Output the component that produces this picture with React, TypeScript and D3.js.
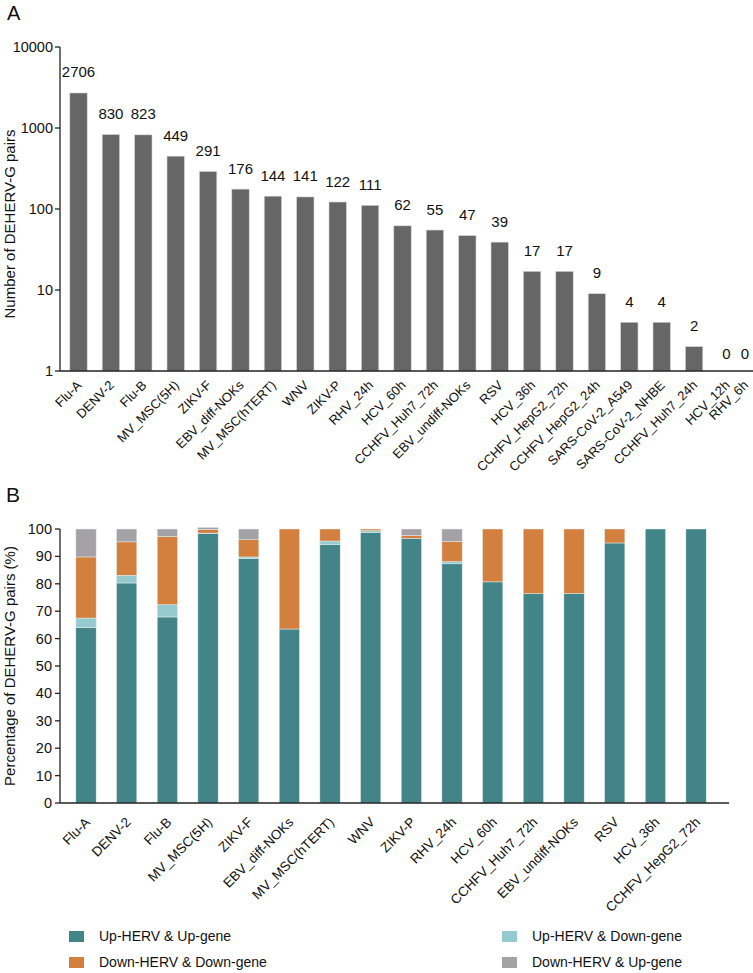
import React from "react";
import * as d3 from "d3";

const catsA = [
  "Flu-A", "DENV-2", "Flu-B", "MV_MSC(5H)", "ZIKV-F", "EBV_diff-NOKs", "MV_MSC(hTERT)", "WNV",
  "ZIKV-P", "RHV_24h", "HCV_60h", "CCHFV_Huh7_72h", "EBV_undiff-NOKs", "RSV", "HCV_36h",
  "CCHFV_HepG2_72h", "CCHFV_HepG2_24h", "SARS-CoV-2_A549", "SARS-CoV-2_NHBE", "CCHFV_Huh7_24h",
  "HCV_12h", "RHV_6h",
];
const countsA = [2706, 830, 823, 449, 291, 176, 144, 141, 122, 111, 62, 55, 47, 39, 17, 17, 9, 4, 4, 2, 0, 0];
const ticksA = [1, 10, 100, 1000, 10000];

const catsB = catsA.slice(0, 16);
const upUp = [64.0, 80.3, 67.9, 98.3, 89.2, 63.5, 94.3, 98.8, 96.6, 87.3, 80.7, 76.4, 76.5, 94.9, 100, 100];
const upDown = [3.5, 2.8, 4.5, 0.2, 0.6, 0, 1.3, 0.6, 0, 0.8, 0, 0, 0, 0, 0, 0];
const downDown = [22.3, 12.2, 24.9, 1.3, 6.3, 36.5, 4.4, 0.6, 1.0, 7.3, 19.3, 23.6, 23.5, 5.1, 0, 0];
const downUp = [10.2, 4.7, 2.7, 0.8, 3.9, 0, 0, 0, 2.4, 4.6, 0, 0, 0, 0, 0, 0];
const seriesNames = ["Up-HERV & Up-gene", "Up-HERV & Down-gene", "Down-HERV & Down-gene", "Down-HERV & Up-gene"];
const seriesColors = ["#428487", "#96cace", "#d3803e", "#a4a2a5"];
const ticksB = [0, 10, 20, 30, 40, 50, 60, 70, 80, 90, 100];

const FONT = "'Liberation Sans', Arial, Helvetica, sans-serif";

export default function App() {
  const W = 753, H = 973;
  // Panel A
  const axA = 60, bottomA = 371, topA = 47, rightA = 753;
  const yA = d3.scaleLog().domain([1, 10000]).range([bottomA, topA]);
  const xA = d3.scalePoint<string>().domain(catsA).range([78.5, 78.5 + 21 * 32.4]);
  const bwA = 17.4;
  const posA = (c: string) => Math.min(xA(c) as number, 745);

  // Panel B
  const axB = 60, bottomB = 803, topB = 529, rightB = 729;
  const yB = d3.scaleLinear().domain([0, 100]).range([bottomB, topB]);
  const xB = d3.scalePoint<string>().domain(catsB).range([86, 86 + 15 * 40.67]);
  const bwB = 20.3;
  const tableB = catsB.map((c, i) => ({ cat: c, s0: upUp[i], s1: upDown[i], s2: downDown[i], s3: downUp[i] }));
  const stack = d3.stack<any>().keys(["s0", "s1", "s2", "s3"])(tableB);

  const legend = [
    { i: 0, x: 69, y: 931 },
    { i: 1, x: 502, y: 931 },
    { i: 2, x: 69, y: 957 },
    { i: 3, x: 502, y: 957 },
  ];

  return (
    <svg width={W} height={H} style={{ position: "absolute", left: 0, top: 0, background: "#fff" }}
      fontFamily={FONT}>
      <rect x={0} y={0} width={W} height={H} fill="#fff" />
      {/* Panel A */}
      <text x={7} y={20} fontSize={20} fill="#111">A</text>
      {countsA.map((v, i) => {
        const c = catsA[i];
        const cx = posA(c);
        return (
          <g key={c}>
            {v > 0 && (
              <rect x={cx - bwA / 2} y={yA(v)} width={bwA} height={bottomA - yA(v)} fill="#666666"
                stroke="#d8d8d8" strokeWidth={0.6} />
            )}
            <text x={cx} y={v > 0 ? yA(v) - 15.5 : bottomA - 12} textAnchor="middle" fontSize={15} fill="#111">{v}</text>
            <text transform={`translate(${cx + 4},${bottomA + 15}) rotate(-45)`} textAnchor="end" fontSize={13} fill="#111">{c}</text>
          </g>
        );
      })}
      <line x1={axA} x2={axA} y1={topA} y2={bottomA} stroke="#222" strokeWidth={1.3} />
      <line x1={axA} x2={rightA} y1={bottomA} y2={bottomA} stroke="#222" strokeWidth={1.5} />
      {ticksA.map((t) => (
        <g key={t}>
          <line x1={axA - 5} x2={axA} y1={yA(t)} y2={yA(t)} stroke="#222" strokeWidth={1.3} />
          <text x={axA - 7} y={yA(t)} dy="0.35em" textAnchor="end" fontSize={14.5} fill="#111">{t}</text>
        </g>
      ))}
      <text transform={`translate(15,${(topA + bottomA) / 2 + 15}) rotate(-90)`} textAnchor="middle" fontSize={15} fill="#111">
        Number of DEHERV-G pairs
      </text>

      {/* Panel B */}
      <text x={6} y={502} fontSize={21} fill="#111">B</text>
      {stack.map((layer, li) => (
        <g key={li} fill={seriesColors[li]}>
          {layer.map((d: any) => (
            d[1] - d[0] > 0 ? (
              <rect key={d.data.cat} x={(xB(d.data.cat) as number) - bwB / 2} y={yB(d[1])} width={bwB}
                height={yB(d[0]) - yB(d[1])} stroke="#e6eeee" strokeWidth={0.5} />
            ) : null
          ))}
        </g>
      ))}
      {catsB.map((c) => (
        <text key={c} transform={`translate(${(xB(c) as number) + 5},${bottomB + 20}) rotate(-45)`} textAnchor="end"
          fontSize={13.5} fill="#111">{c}</text>
      ))}
      <line x1={axB} x2={axB} y1={topB} y2={bottomB} stroke="#222" strokeWidth={1.3} />
      <line x1={axB} x2={rightB} y1={bottomB} y2={bottomB} stroke="#222" strokeWidth={1.5} />
      {ticksB.map((t) => (
        <g key={t}>
          <line x1={axB - 5} x2={axB} y1={yB(t)} y2={yB(t)} stroke="#222" strokeWidth={1.3} />
          <text x={axB - 8} y={yB(t)} dy="0.35em" textAnchor="end" fontSize={14.5} fill="#111">{t}</text>
        </g>
      ))}
      <text transform={`translate(15,${(topB + bottomB) / 2}) rotate(-90)`} textAnchor="middle" fontSize={15} fill="#111">
        Percentage of DEHERV-G pairs (%)
      </text>

      {/* Legend */}
      {legend.map((l) => (
        <g key={l.i}>
          <rect x={l.x} y={l.y} width={15} height={11} fill={seriesColors[l.i]} />
          <text x={l.x + 30} y={l.y + 5.5} dy="0.35em" fontSize={14} fill="#111">{seriesNames[l.i]}</text>
        </g>
      ))}
    </svg>
  );
}
